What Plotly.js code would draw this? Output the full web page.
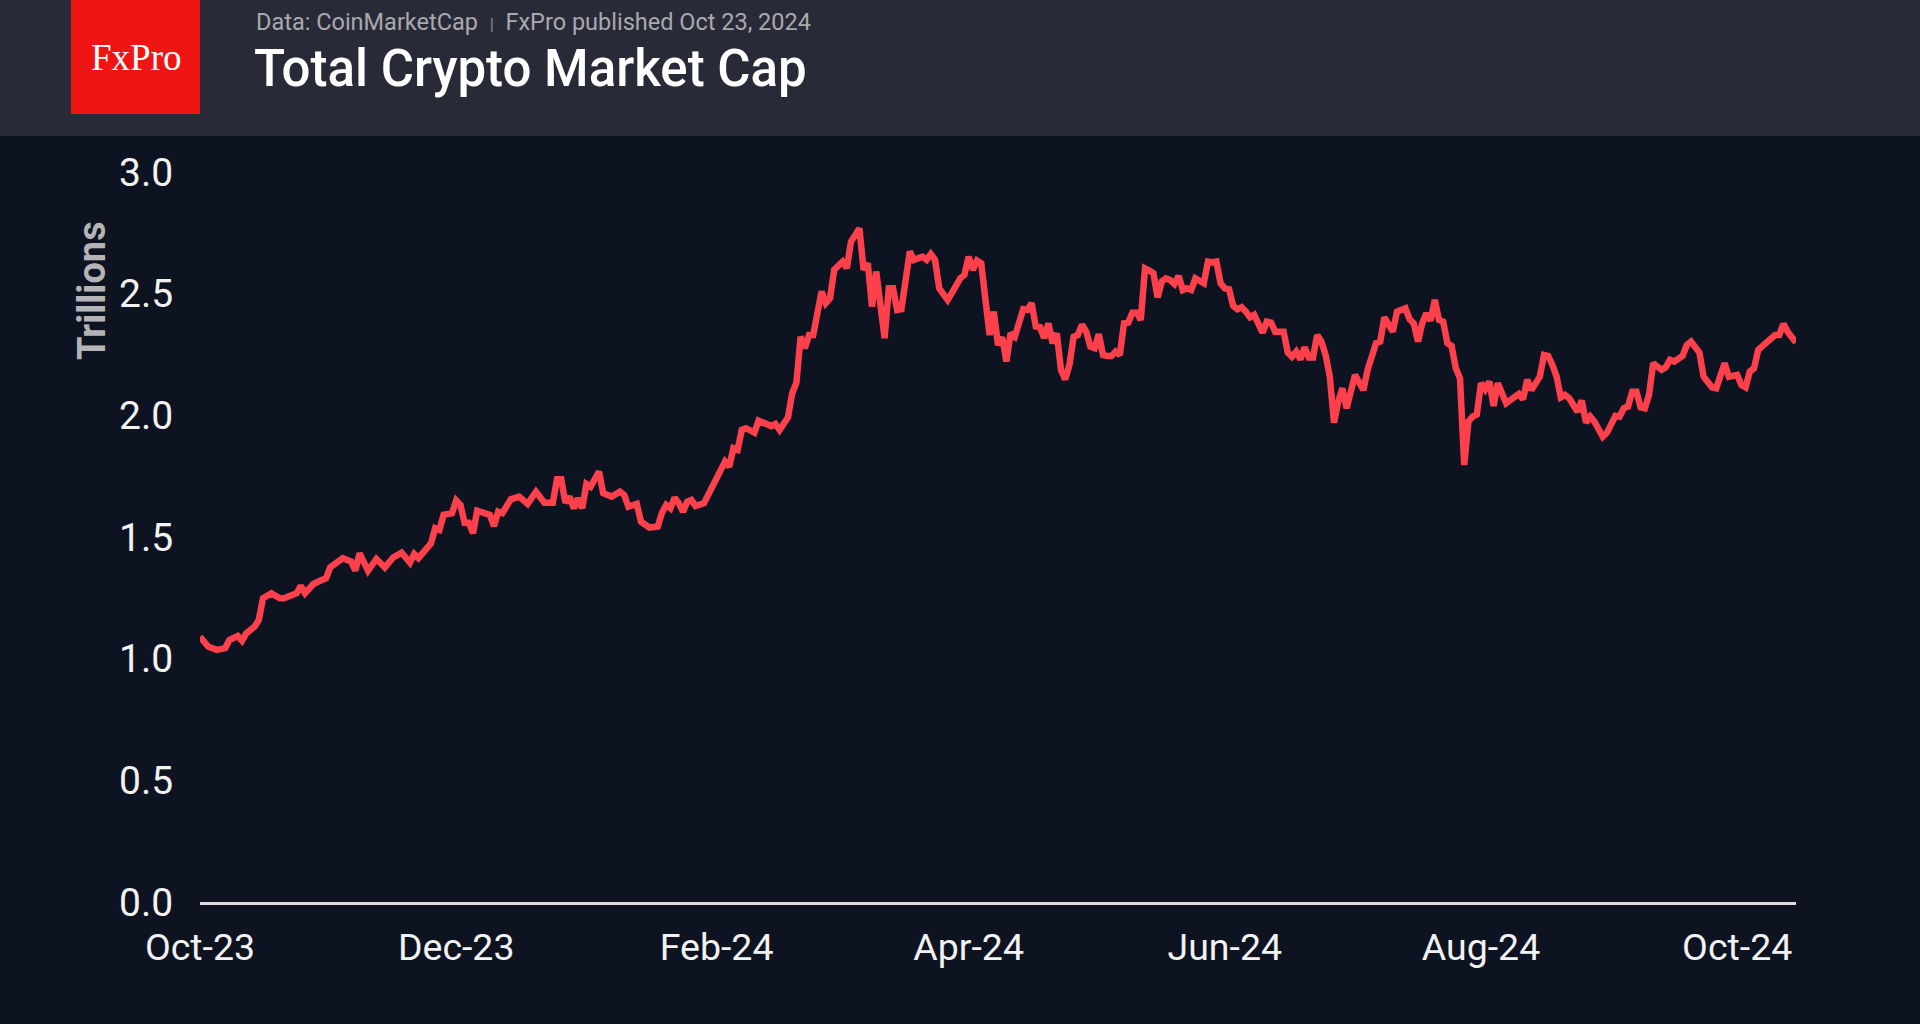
<!DOCTYPE html>
<html>
<head>
<meta charset="utf-8">
<script src="https://cdn.plot.ly/plotly-3.0.1.min.js"></script>
<style>
  html, body { margin: 0; padding: 0; background: #0d1320; }
  #chart { width: 1920px; height: 1024px; }
</style>
</head>
<body>
<div id="chart"></div>
<script>
// ---- DATA ----
const chartTitle = "Total Crypto Market Cap";
const sourceText = "Data: CoinMarketCap";
const publishedText = "FxPro published Oct 23, 2024";
const brandText = "FxPro";
const yAxisTitle = "Trillions";

const tickDates = ["2023-10-09", "2023-12-09", "2024-02-09", "2024-04-09", "2024-06-09", "2024-08-09", "2024-10-09"];
const tickLabels = ["Oct-23", "Dec-23", "Feb-24", "Apr-24", "Jun-24", "Aug-24", "Oct-24"];
const yTickVals = [0, 0.5, 1, 1.5, 2, 2.5, 3];
const yTickLabels = ["0.0", "0.5", "1.0", "1.5", "2.0", "2.5", "3.0"];

const dates = [
"2023-10-09","2023-10-11","2023-10-13","2023-10-15","2023-10-16","2023-10-18","2023-10-19","2023-10-20","2023-10-22","2023-10-23",
"2023-10-24","2023-10-26","2023-10-28","2023-10-29","2023-11-01","2023-11-02","2023-11-03","2023-11-05","2023-11-07","2023-11-08",
"2023-11-09","2023-11-12","2023-11-14","2023-11-15","2023-11-16","2023-11-18","2023-11-20","2023-11-22","2023-11-24","2023-11-26",
"2023-11-28","2023-11-29","2023-11-30","2023-12-03","2023-12-04","2023-12-05","2023-12-06","2023-12-08","2023-12-09","2023-12-10",
"2023-12-11","2023-12-12","2023-12-13","2023-12-14","2023-12-17","2023-12-18","2023-12-19","2023-12-20","2023-12-22","2023-12-24",
"2023-12-26","2023-12-28","2023-12-30","2024-01-01","2024-01-02","2024-01-03","2024-01-04","2024-01-05","2024-01-06","2024-01-07",
"2024-01-08","2024-01-09","2024-01-10","2024-01-11","2024-01-12","2024-01-13","2024-01-15","2024-01-17","2024-01-18","2024-01-19",
"2024-01-21","2024-01-22","2024-01-24","2024-01-26","2024-01-27","2024-01-28","2024-01-29","2024-01-30","2024-01-31","2024-02-01",
"2024-02-02","2024-02-03","2024-02-04","2024-02-06","2024-02-09","2024-02-11","2024-02-12","2024-02-13","2024-02-14","2024-02-15",
"2024-02-16","2024-02-18","2024-02-19","2024-02-20","2024-02-22","2024-02-23","2024-02-24","2024-02-26","2024-02-27","2024-02-28",
"2024-02-29","2024-03-01","2024-03-02","2024-03-03","2024-03-05","2024-03-06","2024-03-07","2024-03-08","2024-03-10","2024-03-11",
"2024-03-12","2024-03-14","2024-03-15","2024-03-16","2024-03-17","2024-03-18","2024-03-20","2024-03-21","2024-03-22","2024-03-23",
"2024-03-24","2024-03-26","2024-03-27","2024-03-29","2024-03-30","2024-03-31","2024-04-01","2024-04-02","2024-04-04","2024-04-05",
"2024-04-07","2024-04-08","2024-04-09","2024-04-10","2024-04-11","2024-04-12","2024-04-14","2024-04-15","2024-04-16","2024-04-17",
"2024-04-18","2024-04-19","2024-04-20","2024-04-22","2024-04-23","2024-04-24","2024-04-25","2024-04-26","2024-04-27","2024-04-28",
"2024-04-29","2024-04-30","2024-05-01","2024-05-02","2024-05-03","2024-05-04","2024-05-05","2024-05-06","2024-05-07","2024-05-08",
"2024-05-09","2024-05-10","2024-05-11","2024-05-12","2024-05-13","2024-05-14","2024-05-15","2024-05-16","2024-05-17","2024-05-18",
"2024-05-19","2024-05-20","2024-05-21","2024-05-22","2024-05-23","2024-05-24","2024-05-25","2024-05-26","2024-05-27","2024-05-28",
"2024-05-29","2024-05-30","2024-05-31","2024-06-01","2024-06-02","2024-06-04","2024-06-05","2024-06-06","2024-06-07","2024-06-08",
"2024-06-09","2024-06-10","2024-06-11","2024-06-12","2024-06-13","2024-06-14","2024-06-15","2024-06-16","2024-06-18","2024-06-19",
"2024-06-20","2024-06-21","2024-06-23","2024-06-24","2024-06-25","2024-06-26","2024-06-27","2024-06-28","2024-06-29","2024-06-30",
"2024-07-01","2024-07-02","2024-07-03","2024-07-04","2024-07-05","2024-07-06","2024-07-07","2024-07-08","2024-07-10","2024-07-12",
"2024-07-13","2024-07-15","2024-07-16","2024-07-17","2024-07-19","2024-07-20","2024-07-21","2024-07-22","2024-07-23","2024-07-24",
"2024-07-25","2024-07-26","2024-07-27","2024-07-28","2024-07-29","2024-07-30","2024-07-31","2024-08-01","2024-08-02","2024-08-03",
"2024-08-04","2024-08-05","2024-08-06","2024-08-07","2024-08-08","2024-08-09","2024-08-10","2024-08-11","2024-08-12","2024-08-13",
"2024-08-15","2024-08-16","2024-08-18","2024-08-19","2024-08-20","2024-08-21","2024-08-22","2024-08-23","2024-08-24","2024-08-25",
"2024-08-26","2024-08-27","2024-08-28","2024-08-29","2024-08-30","2024-09-01","2024-09-02","2024-09-03","2024-09-04","2024-09-05",
"2024-09-07","2024-09-08","2024-09-10","2024-09-11","2024-09-12","2024-09-13","2024-09-14","2024-09-15","2024-09-16","2024-09-17",
"2024-09-18","2024-09-19","2024-09-21","2024-09-22","2024-09-23","2024-09-24","2024-09-26","2024-09-27","2024-09-28","2024-09-29",
"2024-09-30","2024-10-01","2024-10-03","2024-10-04","2024-10-05","2024-10-06","2024-10-07","2024-10-09","2024-10-10","2024-10-11",
"2024-10-12","2024-10-13","2024-10-14","2024-10-16","2024-10-17","2024-10-18","2024-10-19","2024-10-20","2024-10-21","2024-10-23"
];

const marketCap = [
1.090,1.049,1.036,1.043,1.077,1.093,1.074,1.104,1.132,1.159,
1.248,1.269,1.248,1.248,1.269,1.299,1.269,1.307,1.323,1.330,
1.375,1.413,1.399,1.362,1.433,1.362,1.410,1.375,1.416,1.436,
1.395,1.430,1.413,1.474,1.536,1.529,1.591,1.598,1.650,1.632,
1.559,1.559,1.515,1.608,1.591,1.545,1.604,1.598,1.655,1.666,
1.636,1.686,1.641,1.641,1.737,1.737,1.641,1.666,1.618,1.659,
1.618,1.718,1.707,1.740,1.769,1.680,1.666,1.686,1.673,1.625,
1.636,1.563,1.539,1.543,1.600,1.632,1.618,1.662,1.639,1.604,
1.645,1.652,1.628,1.639,1.748,1.810,1.789,1.865,1.858,1.940,
1.947,1.929,1.978,1.970,1.956,1.965,1.940,1.992,2.091,2.134,
2.323,2.276,2.330,2.330,2.509,2.461,2.481,2.598,2.632,2.605,
2.714,2.768,2.598,2.625,2.447,2.591,2.317,2.522,2.522,2.433,
2.436,2.673,2.639,2.652,2.639,2.663,2.639,2.522,2.474,2.502,
2.563,2.577,2.652,2.598,2.636,2.625,2.330,2.426,2.289,2.321,
2.221,2.337,2.323,2.436,2.433,2.461,2.365,2.362,2.317,2.378,
2.296,2.337,2.187,2.148,2.207,2.323,2.330,2.372,2.344,2.282,
2.276,2.334,2.248,2.244,2.244,2.262,2.248,2.378,2.381,2.422,
2.422,2.392,2.604,2.595,2.584,2.485,2.550,2.563,2.556,2.540,
2.573,2.515,2.522,2.515,2.563,2.543,2.632,2.628,2.632,2.543,
2.522,2.518,2.450,2.436,2.444,2.426,2.403,2.413,2.340,2.385,
2.381,2.344,2.344,2.258,2.241,2.262,2.230,2.280,2.238,2.238,
2.330,2.303,2.248,2.159,1.970,2.056,2.111,2.029,2.166,2.104,
2.187,2.296,2.303,2.403,2.344,2.426,2.430,2.440,2.395,2.378,
2.303,2.378,2.419,2.389,2.474,2.392,2.385,2.296,2.285,2.193,
2.152,1.796,1.974,1.995,2.004,2.132,2.107,2.139,2.039,2.132,
2.050,2.061,2.088,2.066,2.146,2.104,2.132,2.159,2.248,2.244,
2.207,2.159,2.074,2.084,2.070,2.015,2.061,1.970,1.995,1.974,
1.912,1.929,1.998,1.995,2.029,2.036,2.097,2.097,2.033,2.029,
2.084,2.214,2.187,2.198,2.228,2.221,2.244,2.289,2.303,2.282,
2.258,2.159,2.115,2.111,2.155,2.214,2.159,2.166,2.125,2.115,
2.180,2.193,2.269,2.296,2.310,2.330,2.330,2.376,2.344,2.299
];

// ---- STYLE ----
const BG = "#0d1320";
const HEADER = "#282b37";
const BRAND_RED = "#f01515";
const LINE_RED = "#fd414c";
const FONT = "Roboto, 'Noto Sans', sans-serif";

// pixel helpers for paper coordinates (plot area x:200-1796, y:172-902)
const L = 200, R = 124, T = 172, B = 122, W = 1920, H = 1024;
const pw = W - L - R, ph = H - T - B;
const px = x => (x - L) / pw;
const py = y => (H - B - y) / ph;

const trace = {
  x: dates,
  y: marketCap,
  type: "scatter",
  mode: "lines",
  line: { color: LINE_RED, width: 6.5 },
  hoverinfo: "skip"
};

const layout = {
  width: W, height: H,
  margin: { l: L, r: R, t: T, b: B, pad: 0 },
  paper_bgcolor: BG,
  plot_bgcolor: BG,
  showlegend: false,
  font: { family: FONT, color: "#f2f2f2" },
  xaxis: {
    type: "date",
    range: [dates[0], dates[dates.length - 1]],
    tickvals: tickDates,
    ticktext: tickLabels,
    showgrid: false,
    zeroline: false,
    showline: true,
    linecolor: "#dcdcdc",
    linewidth: 3,
    ticks: "outside",
    ticklen: 10,
    tickcolor: "rgba(0,0,0,0)",
    tickfont: { family: FONT, size: 37.5, color: "#f2f2f2" },
    fixedrange: true
  },
  yaxis: {
    range: [0, 3],
    tickvals: yTickVals,
    ticktext: yTickLabels,
    showgrid: false,
    zeroline: false,
    showline: false,
    ticks: "outside",
    ticklen: 18,
    tickcolor: "rgba(0,0,0,0)",
    tickfont: { family: FONT, size: 39, color: "#f2f2f2" },
    automargin: false,
    fixedrange: true
  },
  shapes: [
    { type: "rect", xref: "paper", yref: "paper", layer: "below",
      x0: px(0), x1: px(W), y0: py(136), y1: py(-5), fillcolor: HEADER, line: { width: 0 } },
    { type: "rect", xref: "paper", yref: "paper", layer: "above",
      x0: px(71), x1: px(200), y0: py(114), y1: py(-5), fillcolor: BRAND_RED, line: { width: 0 } }
  ],
  annotations: [
    { xref: "paper", yref: "paper", x: px(135.5), y: py(57), xanchor: "center", yanchor: "middle",
      text: brandText, showarrow: false,
      font: { family: "'Liberation Serif', 'DejaVu Serif', serif", size: 37, color: "#ffffff" } },
    { xref: "paper", yref: "paper", x: px(254), y: py(22), xanchor: "left", yanchor: "middle",
      text: sourceText + "  <span style='font-size:17px;color:#8a8a90'>|</span>  " + publishedText,
      showarrow: false, font: { family: FONT, size: 23.5, color: "#a9a9ae" } },
    { xref: "paper", yref: "paper", x: px(252), y: py(69), xanchor: "left", yanchor: "middle",
      text: chartTitle, showarrow: false,
      font: { family: FONT, size: 51, color: "#ffffff", weight: 500 } },
    { xref: "paper", yref: "paper", x: px(92), y: py(291), xanchor: "center", yanchor: "middle",
      text: yAxisTitle, textangle: -90, showarrow: false,
      font: { family: FONT, size: 38, color: "#b4b4b6", weight: 700 } }
  ]
};

Plotly.newPlot("chart", [trace], layout, { displayModeBar: false, staticPlot: true });
</script>
</body>
</html>
